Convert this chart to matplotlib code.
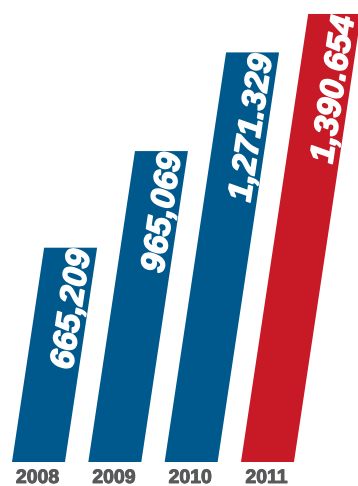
import numpy as np
import matplotlib
matplotlib.use('Agg')
import matplotlib.pyplot as plt
import matplotlib.patheffects as pe
from matplotlib.transforms import Affine2D, offset_copy

# datos
years = ['2008', '2009', '2010', '2011']
values = [665209, 965069, 1271329, 1390654]
value_labels = ['665,209', '965,069', '1,271.329', '1,390.654']
bar_colors = ['#00598c', '#00598c', '#00598c', '#c81a26']

slant = 0.15  # inclinacion de las barras (px horizontales por px vertical)

fig = plt.figure(figsize=(3.58, 4.86), dpi=100)
ax = fig.add_axes([0, 24 / 486, 1, 462 / 486])
ax.set_xlim(-0.504, 4.186)
ax.set_ylim(0, 1434000)
ax.axis('off')

# transformacion inclinada respecto a la linea base
base = ax.transData.transform((0, 0))[1]
skew = Affine2D().translate(0, -base).skew(np.arctan(slant), 0).translate(0, base)
tr = ax.transData + skew

x = np.arange(len(years))
width = 0.694
bars = ax.bar(x, values, width=width, color=bar_colors)
for b in bars:
    b.set_transform(tr)

# etiquetas de valor dentro de las barras
ang = 90 - np.degrees(np.arctan(slant))
for xi, v, lab in zip(x, values, value_labels):
    t = offset_copy(tr, fig=fig, x=-7, y=-3, units='dots')
    ax.text(xi + width / 2, v, lab, transform=t, rotation=ang,
            rotation_mode='anchor', ha='right', va='baseline',
            color='white', fontsize=24, fontweight='bold',
            fontstyle='italic', family='Liberation Sans',
            path_effects=[pe.withStroke(linewidth=1.2, foreground='white')])

# etiquetas de los anos
for xi, yr in zip(x, years):
    t = offset_copy(ax.transData, fig=fig, x=-1, y=-21, units='dots')
    ax.text(xi, 0, yr, transform=t, ha='center', va='baseline',
            color='#58595b', fontsize=14, fontweight='bold',
            family='Liberation Sans',
            path_effects=[pe.withStroke(linewidth=0.7, foreground='#58595b')])

fig.savefig('out.png', dpi=100)
